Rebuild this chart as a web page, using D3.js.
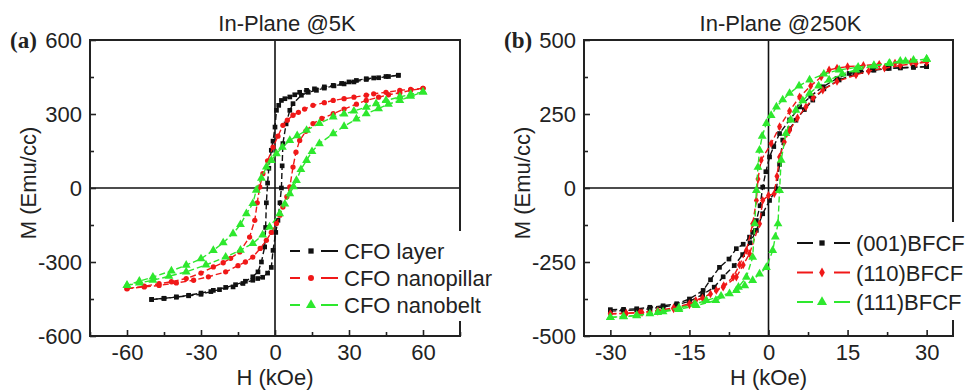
<!DOCTYPE html>
<html>
<head>
<meta charset="utf-8">
<script src="https://cdn.jsdelivr.net/npm/d3@7"></script>
<style>
body{margin:0;background:#fff}
svg text{font-family:'Liberation Sans',Arial,sans-serif;fill:#222}
</style>
</head>
<body>
<svg width="974" height="392"></svg>
<script>
// (a) In-Plane @5K, points are [H (kOe), M (emu/cc)]
const layerDown = [[50,457],[45,452],[40,446],[37,443],[33,436],[30,430],[27,424],[23.6,416],[20,410],[16,402],[12.8,396],[10,388],[8,378],[6,369],[4,362],[2.6,355],[1.5,335],[0.6,315],[0,247],[-0.8,190],[-1.5,153],[-2.5,80],[-3,20],[-3.5,-60],[-3.8,-160],[-4.2,-239],[-5.5,-300],[-6.9,-340],[-9,-360],[-12,-378],[-16,-392],[-20,-403],[-25,-415],[-30,-426],[-35,-435],[-40,-442],[-45,-447],[-50,-452]]
const layerUp = [[-50,-452],[-45,-448],[-40,-442],[-35,-437],[-30,-431],[-26,-420],[-22.5,-412],[-17,-401],[-13,-387],[-9,-374],[-7,-367],[-5,-362],[-3,-345],[-1.5,-322],[-0.8,-253],[0.3,-180],[1.2,-131],[2,-60],[2.6,0],[2.9,90],[3.2,180],[4.5,260],[6,315],[7.3,342],[10.7,376],[13.5,388],[16.8,396],[20,405],[23.9,414],[28,422],[32,430],[37,440],[42,447],[46,452],[50,457]]
const pillarDown = [[60,404],[55,400],[50.6,396],[45,388],[40,382],[37,376],[32,368],[28,362],[23.6,355],[20,346],[15.4,335],[12,320],[9.5,307],[7.3,295],[5,275],[3.2,254],[1.2,210],[-0.8,166],[-3,110],[-4.9,58],[-6.2,4],[-7.2,-60],[-8.2,-131],[-10.3,-199],[-14.3,-259],[-18,-285],[-21,-303],[-25,-320],[-30,-345],[-36,-367],[-42,-380],[-47,-388],[-53,-398],[-60,-408]]
const pillarUp = [[-60,-408],[-53,-401],[-47,-395],[-40,-385],[-33,-374],[-27,-360],[-20,-340],[-15,-315],[-12,-300],[-9,-280],[-6,-245],[-3.5,-212],[-1.5,-180],[0.6,-144],[2,-110],[3.2,-77],[4.8,-35],[6,4],[7.3,85],[8.5,145],[10,193],[12.5,230],[15.4,261],[19,282],[23.6,301],[28,320],[33,340],[37,355],[42,368],[46,378],[50.6,386],[55,396],[60,404]]
const beltDown = [[60,389],[55,380],[50.6,369],[45,355],[41,342],[37,328],[32,312],[28,300],[23.6,288],[18,262],[12.8,234],[9,212],[6,193],[3,165],[0.6,139],[-1.5,112],[-3.5,85],[-5.5,40],[-7.6,-9],[-9,-63],[-11.6,-104],[-14,-148],[-17,-185],[-21,-222],[-25,-253],[-30,-287],[-36,-313],[-42,-336],[-49.5,-361],[-55,-378],[-60,-395]]
const beltUp = [[-60,-395],[-55,-385],[-49.5,-374],[-43,-358],[-36,-340],[-28,-312],[-20,-280],[-14,-252],[-9,-225],[-5,-190],[-2.2,-158],[1.9,-104],[4,-65],[6,-23],[7.5,5],[8.7,31],[10.5,75],[12.8,112],[15,148],[18,180],[23.6,220],[28,250],[33,280],[37,301],[42,322],[46,340],[50.6,355],[55,372],[60,389]]

// (b) In-Plane @250K
const b001Down = [[30,410],[27.5,408],[25,406],[22.9,404],[20,398],[17.5,393],[15.3,387],[13,370],[10.3,342],[8,310],[5.9,274],[4,230],[2.1,184],[1,140],[0.2,105],[-0.5,55],[-1.1,3],[-1.6,-60],[-2.3,-110],[-3,-150],[-3.6,-166],[-4.8,-190],[-6.1,-205],[-7.5,-240],[-9.3,-268],[-11,-310],[-12.4,-346],[-15,-375],[-17.4,-391],[-20,-398],[-22.5,-403],[-25,-408],[-27.5,-410],[-30,-411]]
const b001Up = [[-30,-416],[-27.5,-414],[-25,-412],[-22.5,-408],[-20,-402],[-17.5,-395],[-15,-383],[-12.5,-360],[-10.3,-335],[-8.6,-300],[-6.5,-262],[-4.9,-225],[-3.5,-185],[-2.3,-143],[-1.1,-87],[0.2,-42],[1.5,-3],[2.1,80],[2.7,162],[4,200],[5.2,229],[6.8,265],[8.4,297],[10.5,335],[13.4,365],[16.5,385],[19.7,399],[22.5,404],[25,406],[27.5,408],[30,410]]
const b110Down = [[30,427],[27,425],[24,422],[21,418],[18,414],[15,410],[13,405],[11.5,399],[10,375],[8,345],[5.9,308],[4,260],[2.1,207],[0.5,150],[-1.4,94],[-2,30],[-2.3,-42],[-3,-121],[-4.2,-211],[-5.5,-260],[-6.7,-301],[-8.5,-330],[-9.9,-346],[-12.5,-372],[-15,-391],[-18,-405],[-21,-414],[-24.4,-420],[-27,-423],[-30,-425]]
const b110Up = [[-30,-425],[-27,-424],[-24,-421],[-21,-417],[-18,-408],[-15,-395],[-13.8,-380],[-11,-358],[-8.6,-335],[-6.1,-301],[-4.8,-260],[-3.6,-222],[-1.7,-121],[-1.1,-42],[0,-25],[1.1,-19],[1.6,40],[2.1,105],[3,155],[4,195],[5.5,237],[7.1,274],[8.5,305],[10.3,331],[13,360],[16.6,382],[19,395],[22,405],[25,414],[28,421],[30,425]]
const b111Down = [[30,435],[27.5,432],[25,429],[22.9,421],[20,414],[17,408],[13.4,399],[10.5,385],[7.8,365],[5.8,345],[4,320],[2.7,298],[1.5,274],[0.5,245],[-0.4,218],[-1.2,175],[-1.7,128],[-2,70],[-2.3,-8],[-2.6,-121],[-3,-234],[-4.2,-301],[-5.7,-335],[-7.4,-357],[-10,-380],[-13.7,-397],[-17,-410],[-20,-418],[-22.5,-425],[-25,-430],[-27.5,-434],[-30,-437]]
const b111Up = [[-30,-437],[-27.5,-435],[-25,-431],[-21,-420],[-17,-405],[-14,-392],[-11.8,-380],[-9,-365],[-6.1,-346],[-4.5,-330],[-3,-312],[-1.7,-290],[-0.4,-268],[0.8,-211],[1.3,-165],[1.8,-121],[2.1,-8],[2.4,94],[3.3,184],[4.2,230],[5.2,263],[6.5,295],[7.8,320],[9.5,345],[11.5,365],[14,385],[16.6,399],[20,412],[23,421],[26,428],[30,435]]

const aXTicks = [-60,-30,0,30,60], aXMinor = [-75,-45,-15,15,45,75]
const aYTicks = [-600,-300,0,300,600], aYMinor = [-450,-150,150,450]
const bXTicks = [-30,-15,0,15,30], bXMinor = [-22.5,-7.5,7.5,22.5]
const bYTicks = [-500,-250,0,250,500], bYMinor = [-375,-125,125,375]

const aNames = ['CFO layer','CFO nanopillar','CFO nanobelt']
const bNames = ['(001)BFCF','(110)BFCF','(111)BFCF']

const colors = ['#111','#f01818','#2ee82e']

const svg = d3.select('svg')
svg.append('rect').attr('width',974).attr('height',392).attr('fill','#fff')

// legend dash = [end of first dash, marker, start of second dash, end]
const panels = [
  {tag:'(a)', title:'In-Plane @5K', x0:90, x1:460, xDom:[-75,75], yDom:[-600,600],
   xTicks:aXTicks, xMinor:aXMinor, yTicks:aYTicks, yMinor:aYMinor,
   series:[[layerDown,layerUp],[pillarDown,pillarUp],[beltDown,beltUp]],
   shapes:[d3.symbolSquare,d3.symbolCircle,d3.symbolTriangle], names:aNames,
   leg:{x:290,y:251,dy:27,dash:[10,21,31,48],gap:[231,321]}},
  {tag:'(b)', title:'In-Plane @250K', x0:584, x1:953, xDom:[-35,35], yDom:[-500,500],
   xTicks:bXTicks, xMinor:bXMinor, yTicks:bYTicks, yMinor:bYMinor,
   series:[[b001Down,b001Up],[b110Down,b110Up],[b111Down,b111Up]],
   shapes:[d3.symbolSquare,d3.symbolDiamond,d3.symbolTriangle], names:bNames,
   leg:{x:797,y:243,dy:29.5,dash:[16,25,37,53],gap:[222,320]}}
]

const plotTop = 40, plotBottom = 336
const fmt = d => String(d)

panels.forEach(p => {
  const g = svg.append('g')
  const x = d3.scaleLinear().domain(p.xDom).range([p.x0,p.x1])
  const y = d3.scaleLinear().domain(p.yDom).range([plotBottom,plotTop])
  const mid = (p.x0+p.x1)/2

  // zero lines
  g.append('line').attr('x1',x(0)).attr('x2',x(0)).attr('y1',plotTop).attr('y2',plotBottom)
    .attr('stroke','#111').attr('stroke-width',1.6)
  g.append('line').attr('x1',p.x0).attr('x2',p.x1).attr('y1',y(0)).attr('y2',y(0))
    .attr('stroke','#111').attr('stroke-width',1.6)

  const line = d3.line().x(d => x(d[0])).y(d => y(d[1]))
  p.series.forEach((branches,i) => {
    const sym = d3.symbol().type(p.shapes[i]).size(p.shapes[i]==d3.symbolTriangle?34:22)
    branches.forEach(pts => {
      g.append('path').attr('d',line(pts)).attr('fill','none')
        .attr('stroke',colors[i]).attr('stroke-width',1.4).attr('stroke-dasharray','6,3')
      g.selectAll(null).data(pts).enter().append('path')
        .attr('d',sym)
        .attr('transform',d => `translate(${x(d[0])},${y(d[1])})`)
        .attr('fill',colors[i])
    })
  })

  // frame
  g.append('rect').attr('x',p.x0).attr('y',plotTop).attr('width',p.x1-p.x0).attr('height',plotBottom-plotTop)
    .attr('fill','none').attr('stroke','#222').attr('stroke-width',2)

  const xAxis = g.append('g').attr('transform',`translate(0,${plotBottom})`)
    .call(d3.axisBottom(x).tickValues(p.xTicks).tickFormat(fmt).tickSize(-6).tickSizeOuter(0).tickPadding(8))
  const xMinor = g.append('g').attr('transform',`translate(0,${plotBottom})`)
    .call(d3.axisBottom(x).tickValues(p.xMinor).tickSize(-4).tickSizeOuter(0).tickFormat(''))
  const yAxis = g.append('g').attr('transform',`translate(${p.x0},0)`)
    .call(d3.axisLeft(y).tickValues(p.yTicks).tickFormat(fmt).tickSize(-6).tickSizeOuter(0).tickPadding(8))
  const yMinor = g.append('g').attr('transform',`translate(${p.x0},0)`)
    .call(d3.axisLeft(y).tickValues(p.yMinor).tickSize(-4).tickSizeOuter(0).tickFormat(''))
  ;[xAxis,xMinor,yAxis,yMinor].forEach(a => {
    a.select('.domain').remove()
    a.selectAll('line').attr('stroke','#222').attr('stroke-width',1.6)
    a.selectAll('text').style('font-size','22px').attr('fill','#222')
  })

  g.append('text').attr('x',mid+12).attr('y',31).attr('text-anchor','middle')
    .style('font-size','22px').text(p.title)
  g.append('text').attr('x',p.x0-80).attr('y',48)
    .style('font-family','"Liberation Serif",serif').style('font-weight','bold').style('font-size','23px')
    .text(p.tag)
  g.append('text').attr('x',mid).attr('y',385).attr('text-anchor','middle')
    .style('font-size','22px').text('H (kOe)')
  g.append('text').attr('transform',`translate(${p.x0-54},${(plotTop+plotBottom)/2-5}) rotate(-90)`)
    .attr('text-anchor','middle').style('font-size','22px').text('M (Emu/cc)')

  // legend, white box breaks the right frame line
  const L = p.leg
  g.append('rect').attr('x',L.x-4).attr('y',L.gap[0]).attr('width',p.x1-L.x+10).attr('height',L.gap[1]-L.gap[0])
    .attr('fill','#fff')
  p.names.forEach((name,i) => {
    const cy = L.y + i*L.dy
    const row = g.append('g')
    row.append('line').attr('x1',L.x).attr('x2',L.x+L.dash[0]).attr('y1',cy).attr('y2',cy)
      .attr('stroke',colors[i]).attr('stroke-width',2)
    row.append('line').attr('x1',L.x+L.dash[2]).attr('x2',L.x+L.dash[3]).attr('y1',cy).attr('y2',cy)
      .attr('stroke',colors[i]).attr('stroke-width',2)
    row.append('path').attr('d',d3.symbol().type(p.shapes[i]).size(p.shapes[i]==d3.symbolTriangle?44:28))
      .attr('transform',`translate(${L.x+L.dash[1]},${cy})`).attr('fill',colors[i])
    row.append('text').attr('x',L.x+L.dash[3]+6).attr('y',cy+8).style('font-size','22px').text(name)
  })
})
</script>
</body>
</html>
